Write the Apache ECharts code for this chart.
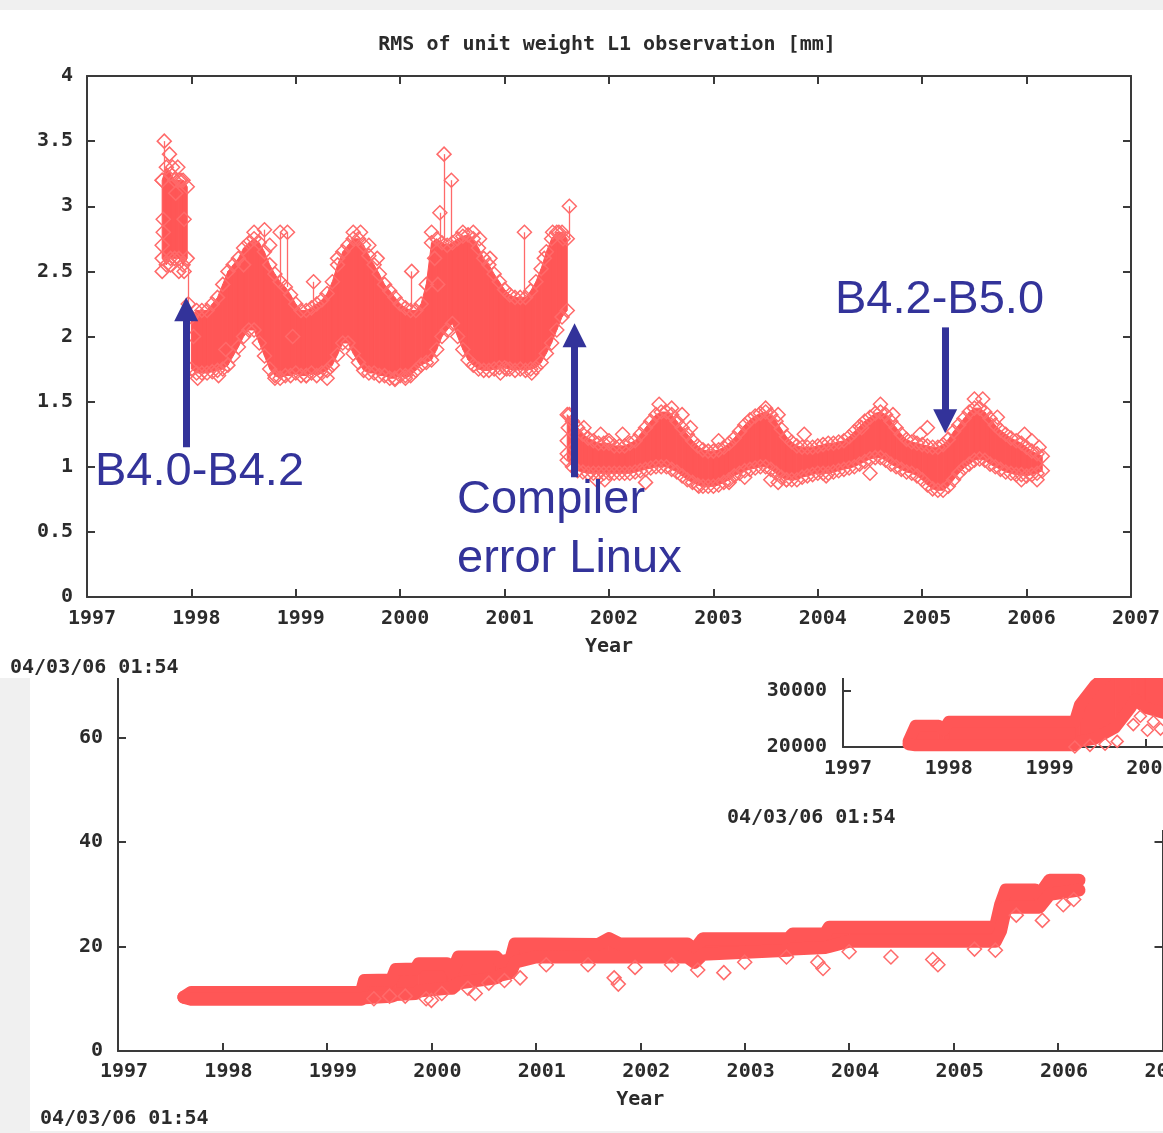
<!DOCTYPE html>
<html><head><meta charset="utf-8">
<script src="https://cdn.jsdelivr.net/npm/echarts@6/dist/echarts.min.js"></script>
<style>
html,body{margin:0;padding:0;background:#f0f0f0;width:1163px;height:1133px;overflow:hidden;}
.box{position:absolute;overflow:hidden;background:#ffffff;}
.inner{position:absolute;}
</style></head><body>
<div class="box" style="left:30px;top:678px;width:1133px;height:453px;z-index:1"><div class="inner" id="cBottom" style="left:0;top:-100px;width:1250px;height:555px"></div></div>
<div class="box" style="left:717px;top:678px;width:446px;height:152px;z-index:2"><div class="inner" id="cInset" style="left:0;top:-100px;width:700px;height:300px"></div></div>
<div class="box" style="left:0;top:10px;width:1163px;height:668px;z-index:3"><div class="inner" id="cTop" style="left:0;top:0;width:1163px;height:668px"></div></div>
<script>
// ---------------- DATA ----------------
// Top chart: RMS of unit weight L1 observation [mm]
const yearTicks = [1997,1998,1999,2000,2001,2002,2003,2004,2005,2006,2007];
const rmsTicks = [0,0.5,1,1.5,2,2.5,3,3.5,4];

const rmsT1 = [1997.72,1997.76,1997.80,1997.84,1997.88,1997.92,1997.96];
const rmsHi1 = [3.20,3.30,3.25,3.20,3.20,3.20,3.15];
const rmsLo1 = [2.60,2.55,2.60,2.60,2.60,2.55,2.60];

const rmsT2 = [1998.00,1998.05,1998.10,1998.15,1998.20,1998.25,1998.30,1998.35,1998.40,1998.45,1998.50,1998.55,1998.60,1998.65,1998.70,1998.75,1998.80,1998.85,1998.90,1998.95,
 1999.00,1999.05,1999.10,1999.15,1999.20,1999.25,1999.30,1999.35,1999.40,1999.45,1999.50,1999.55,1999.60,1999.65,1999.70,1999.75,1999.80,1999.85,1999.90,1999.95,
 2000.00,2000.05,2000.10,2000.15,2000.20,2000.25,2000.30,2000.35,2000.40,2000.45,2000.50,2000.55,2000.60,2000.65,2000.70,2000.75,2000.80,2000.85,2000.90,2000.95,
 2001.00,2001.05,2001.10,2001.15,2001.20,2001.25,2001.30,2001.35,2001.40,2001.45,2001.50,2001.55,2001.60];
const rmsHi2 = [2.15,2.20,2.20,2.20,2.25,2.30,2.40,2.50,2.55,2.60,2.68,2.72,2.75,2.72,2.65,2.55,2.48,2.42,2.38,2.32,
 2.25,2.20,2.20,2.22,2.25,2.28,2.33,2.42,2.55,2.65,2.70,2.75,2.75,2.70,2.62,2.55,2.48,2.40,2.35,2.30,
 2.25,2.22,2.20,2.20,2.25,2.40,2.72,2.75,2.72,2.70,2.72,2.75,2.77,2.78,2.75,2.68,2.60,2.55,2.48,2.42,
 2.36,2.32,2.30,2.30,2.30,2.35,2.42,2.52,2.65,2.75,2.80,2.80,2.75];
const rmsLo2 = [1.75,1.72,1.72,1.72,1.73,1.74,1.75,1.78,1.85,1.92,2.00,2.05,2.05,1.95,1.85,1.75,1.70,1.68,1.70,1.70,
 1.72,1.70,1.70,1.72,1.70,1.72,1.74,1.78,1.86,1.95,1.95,1.87,1.80,1.74,1.72,1.72,1.70,1.70,1.68,1.68,
 1.70,1.68,1.70,1.74,1.78,1.80,1.82,1.90,2.00,2.05,2.10,2.00,1.90,1.82,1.78,1.75,1.74,1.74,1.75,1.76,
 1.76,1.75,1.74,1.75,1.74,1.75,1.76,1.80,1.87,1.95,2.05,2.15,2.20];

const rmsT3 = [2001.60,2001.65,2001.70,2001.75,2001.80,2001.85,2001.90,2001.95,
 2002.00,2002.05,2002.10,2002.15,2002.20,2002.25,2002.30,2002.35,2002.40,2002.45,2002.50,2002.55,2002.60,2002.65,2002.70,2002.75,2002.80,2002.85,2002.90,2002.95,
 2003.00,2003.05,2003.10,2003.15,2003.20,2003.25,2003.30,2003.35,2003.40,2003.45,2003.50,2003.55,2003.60,2003.65,2003.70,2003.75,2003.80,2003.85,2003.90,2003.95,
 2004.00,2004.05,2004.10,2004.15,2004.20,2004.25,2004.30,2004.35,2004.40,2004.45,2004.50,2004.55,2004.60,2004.65,2004.70,2004.75,2004.80,2004.85,2004.90,2004.95,
 2005.00,2005.05,2005.10,2005.15,2005.20,2005.25,2005.30,2005.35,2005.40,2005.45,2005.50,2005.55,2005.60,2005.65,2005.70,2005.75,2005.80,2005.85,2005.90,2005.95,
 2006.00,2006.05,2006.10,2006.15];
const rmsHi3 = [1.40,1.35,1.30,1.25,1.22,1.20,1.18,1.18,
 1.18,1.16,1.16,1.16,1.18,1.20,1.25,1.30,1.35,1.40,1.42,1.42,1.40,1.35,1.30,1.25,1.20,1.16,1.13,1.12,
 1.12,1.13,1.15,1.18,1.22,1.27,1.32,1.36,1.39,1.41,1.42,1.40,1.35,1.29,1.23,1.19,1.16,1.15,1.15,1.15,
 1.16,1.17,1.18,1.18,1.19,1.20,1.23,1.27,1.31,1.35,1.38,1.41,1.42,1.40,1.35,1.30,1.25,1.21,1.19,1.18,
 1.17,1.16,1.15,1.15,1.17,1.21,1.27,1.32,1.37,1.42,1.45,1.45,1.42,1.37,1.32,1.28,1.25,1.22,1.20,1.18,
 1.15,1.12,1.10,1.08];
const rmsLo3 = [1.05,1.00,0.97,0.96,0.95,0.95,0.95,0.95,
 0.95,0.95,0.95,0.95,0.95,0.96,0.97,0.98,0.99,1.00,1.00,1.00,0.98,0.96,0.93,0.90,0.88,0.86,0.85,0.85,
 0.85,0.86,0.88,0.90,0.93,0.95,0.97,0.98,0.99,1.00,1.00,0.98,0.95,0.92,0.90,0.90,0.90,0.92,0.93,0.94,
 0.95,0.95,0.95,0.96,0.97,0.98,0.99,1.00,1.02,1.04,1.06,1.07,1.07,1.05,1.02,1.00,0.98,0.96,0.95,0.93,
 0.90,0.86,0.83,0.82,0.82,0.85,0.90,0.95,0.99,1.02,1.05,1.06,1.05,1.02,1.00,0.98,0.96,0.95,0.94,0.94,
 0.93,0.94,0.95,0.97];

const rmsExtraT = [1997.72,1997.73,1997.73,1997.72,1997.79,1997.82,1997.85,1997.87,1997.90,1997.93,1997.72,1997.80,1997.88,1997.93,
 1998.02,1998.06,1998.26,1998.33,1998.50,1998.60,1998.75,1998.80,1998.97,1999.10,1999.30,1999.40,1999.55,1999.62,1999.70,1999.78,1999.95,2000.05,2000.30,2000.33,2000.36,2000.60,2000.70,2000.76,2000.86,2000.96,2001.02,2001.26,2001.38,2001.46,2001.52,2001.56,
 2001.60,2001.60,2001.61,2001.62,
 2001.76,2001.92,2002.00,2002.13,2002.48,2002.60,2002.70,2002.78,2003.05,2003.50,2003.62,2003.87,2004.42,2004.60,2004.72,2004.98,2005.05,2005.50,2005.58,2005.72,2005.98,2006.05,2006.12,
 2001.88,2001.96,2002.35,2002.86,2003.15,2003.30,2003.55,2003.62,2003.70,2004.08,2004.50,2005.95,2006.10];
const rmsExtraV = [2.7,2.8,2.9,3.2,3.4,3.3,3.1,3.3,3.2,2.9,2.5,2.55,2.5,2.5,
 2.0,1.68,1.7,1.9,2.55,2.8,2.7,1.68,2.0,1.7,1.68,2.6,2.8,2.8,2.7,2.6,1.67,1.7,2.8,2.6,2.4,2.8,2.8,2.75,2.6,1.72,1.75,1.72,2.6,2.8,2.8,2.75,
 1.1,1.2,1.3,1.4,
 1.3,1.25,1.2,1.25,1.48,1.45,1.4,1.3,1.2,1.45,1.4,1.25,1.3,1.48,1.4,1.25,1.3,1.52,1.52,1.38,1.25,1.2,1.15,
 0.9,0.9,0.88,0.85,0.88,0.92,0.9,0.88,0.9,0.93,0.95,0.9,0.9];

const rmsSpikeT = [1997.74,1997.97,1998.70,1998.85,1998.92,1999.17,2000.11,2000.38,2000.42,2000.49,2001.19,2001.62];
const rmsSpikeBase = [3.25,2.55,2.70,2.42,2.38,2.22,2.20,2.72,2.72,2.72,2.30,2.75];
const rmsSpikePeak = [3.50,2.25,2.82,2.80,2.80,2.42,2.50,2.95,3.40,3.20,2.80,3.00];

// annotations (arrows in data coordinates)
const arrowX = [1997.95, 2001.67, 2005.22];
const arrowFrom = [1.15, 0.92, 2.07];
const arrowTo = [2.21, 2.01, 1.35];

// Bottom chart
const countTicksY = [0,20,40,60,80];
const countT = [1997.63,1997.70,1998.00,1998.50,1999.00,1999.33,1999.36,1999.62,1999.66,1999.85,1999.88,2000.15,2000.20,2000.26,2000.62,2000.66,2000.76,2000.80,2001.00,2001.60,2001.70,2001.80,2002.45,2002.52,2002.60,2003.42,2003.46,2003.77,2003.81,2004.00,2005.40,2005.45,2005.50,2005.78,2005.82,2005.92,2006.20];
const countHi = [10.3,11.2,11.2,11.2,11.2,11.2,13.5,13.6,15.6,15.7,16.7,16.7,15.0,18.0,18.0,17.0,17.5,20.5,20.5,20.4,21.5,20.5,20.5,19.4,21.5,21.5,22.4,22.4,23.7,23.7,23.7,28.0,30.8,30.8,29.8,32.7,32.7];
const countLo = [10.3,9.9,9.9,9.9,9.9,9.9,10.2,10.5,10.8,11.0,11.5,12.0,12.0,13.0,14.0,14.5,15.0,17.0,18.0,18.0,18.0,18.0,18.0,17.0,18.5,19.3,19.5,19.8,20.0,21.0,21.0,23.0,27.5,27.5,27.5,30.0,30.8];
const countOutT = [1999.45,1999.60,1999.75,1999.95,2000.00,2000.10,2000.35,2000.42,2000.55,2000.70,2000.85,2001.10,2001.50,2001.75,2001.79,2001.95,2002.30,2002.55,2002.80,2003.00,2003.40,2003.70,2003.75,2004.00,2004.40,2004.80,2004.85,2005.20,2005.40,2005.60,2005.85,2006.05,2006.15];
const countOutV = [10.0,10.5,10.5,10.0,9.7,11.0,12.0,11.0,13.0,13.5,14.0,16.5,16.5,14.0,12.8,16.0,16.5,15.5,15.0,17.0,18.0,17.0,15.8,19.0,18.0,17.5,16.5,19.5,19.3,26.0,25.0,28.0,29.0];

// Inset chart (partially visible)
const insetTicksX = [1997,1998,1999,2000,2001];
const insetTicksY = [20000,30000,40000];
const insetT = [1997.65,1997.72,1997.95,1998.00,1998.05,1999.30,1999.35,1999.50,1999.70,1999.85,1999.90,2000.00,2000.20];
const insetHi = [21000,23800,23800,23000,24500,24500,27500,31000,34000,34000,34000,34000,34000];
const insetLo = [20500,20300,20300,20300,20300,20300,21000,21500,23500,27000,28500,27000,26000];
const insetOutT = [1999.30,1999.45,1999.60,1999.72,1999.88,1999.95,2000.02,2000.08,2000.15];
const insetOutV = [20000,20300,20500,21000,24000,25500,23000,24500,23200];

const titleText = 'RMS of unit weight L1 observation [mm]';
const stampText = '04/03/06 01:54';
const annoTexts = ['B4.0-B4.2', 'Compiler', 'error Linux', 'B4.2-B5.0'];

// ---------------- STYLE ----------------
const MONO = '"DejaVu Sans Mono", "Liberation Mono", monospace';
const MONO_FONT = 'bold 20px ' + MONO;
const TXT = '#2b2b2b';
const RED = '#ff5656';
const RED_LINE = '#ff6a6a';
const AXIS = '#3a3a3a';
const NAVY = '#33339a';
const ANNO_FONT = '47px "Liberation Sans", Arial, sans-serif';

function lab(extra){ return Object.assign({fontFamily:MONO,fontSize:20,fontWeight:'bold',color:TXT}, extra); }
function xAx(ticks,pos,showLabel,margin,shift,name,gap){
  return {type:'value',position:pos,min:ticks[0],max:ticks[ticks.length-1],interval:ticks[1]-ticks[0],
    axisLine:{show:true,onZero:false,lineStyle:{color:AXIS,width:2}},
    axisTick:{show:true,inside:true,length:8,lineStyle:{color:AXIS,width:2}},
    splitLine:{show:false},
    axisLabel:lab({show:showLabel,margin:margin||10,padding:[0,0,0,shift||0],showMinLabel:true,showMaxLabel:true,formatter:v=>String(Math.round(v))}),
    name:name||'',nameLocation:'middle',nameGap:gap||0,nameTextStyle:lab({})};
}
function yAx(ticks,pos,showLabel,margin){
  return {type:'value',position:pos,min:ticks[0],max:ticks[ticks.length-1],interval:ticks[1]-ticks[0],
    axisLine:{show:true,onZero:false,lineStyle:{color:AXIS,width:2}},
    axisTick:{show:true,inside:true,length:8,lineStyle:{color:AXIS,width:2}},
    splitLine:{show:false},
    axisLabel:lab({show:showLabel,margin:margin||10,showMinLabel:true,showMaxLabel:true,formatter:v=>String(v)})};
}
// band fill between lo and hi, drawn as polygons through the axis scales
function band(t,lo,hi,edge){
  const out = [{type:'custom',silent:true,z:2,clip:true,
    data:t.map((x,i)=>[x,lo[i],hi[i]]),
    encode:{x:0,y:[1,2]},
    renderItem:function(params,api){
      const i=params.dataIndex;
      if(i>=t.length-1) return null;
      const p=[api.coord([t[i],lo[i]]),api.coord([t[i],hi[i]]),api.coord([t[i+1],hi[i+1]]),api.coord([t[i+1],lo[i+1]])];
      return {type:'polygon',shape:{points:p},style:{fill:RED,stroke:RED,lineWidth:1}};
    }}];
  if(edge){
    out.push({type:'line',data:t.map((x,i)=>[x,hi[i]]),symbol:'none',showSymbol:false,silent:true,z:3,
      lineStyle:{width:edge,color:RED,join:'round',cap:'round'}});
    out.push({type:'line',data:t.map((x,i)=>[x,lo[i]]),symbol:'none',showSymbol:false,silent:true,z:3,
      lineStyle:{width:edge,color:RED,join:'round',cap:'round'}});
  }
  return out;
}
function hollow(data,size){
  return {type:'scatter',data:data,symbol:'diamond',symbolSize:size,silent:true,z:4,
    itemStyle:{color:'rgba(255,255,255,0)',borderColor:RED_LINE,borderWidth:1.5,opacity:1}};
}
function pts(t,v){ return t.map((x,i)=>[x,v[i]]); }
function gtext(x,y,text,font,fill,align){
  return {type:'text',x:x,y:y,z:20,silent:true,style:{text:text,font:font,fill:fill,
    textAlign:align||'left',align:align||'left',textVerticalAlign:'middle',verticalAlign:'middle'}};
}

// ---------------- TOP CHART ----------------
const chartTop = echarts.init(document.getElementById('cTop'),null,{renderer:'canvas'});
const edgePts = [].concat(pts(rmsT1,rmsHi1),pts(rmsT1,rmsLo1),pts(rmsT2,rmsHi2),pts(rmsT2,rmsLo2),pts(rmsT3,rmsHi3),pts(rmsT3,rmsLo3));
const spikeSeries = hollow(pts(rmsSpikeT,rmsSpikePeak),14);
spikeSeries.markLine = {silent:true,symbol:['none','none'],animation:false,label:{show:false},
  lineStyle:{color:RED_LINE,width:1.3,type:'solid'},emphasis:{disabled:true},
  data:rmsSpikeT.map((x,i)=>[{coord:[x,rmsSpikeBase[i]]},{coord:[x,rmsSpikePeak[i]]}])};
const arrowSeries = {type:'scatter',data:[],z:10,silent:true,
  markLine:{silent:true,symbol:['none','triangle'],symbolSize:24,animation:false,label:{show:false},
    lineStyle:{color:NAVY,width:7,type:'solid',opacity:1},itemStyle:{color:NAVY},emphasis:{disabled:true},
    data:arrowX.map((x,i)=>[{coord:[x,arrowFrom[i]]},{coord:[x,arrowTo[i]]}])}};
chartTop.setOption({
  animation:false,
  grid:{left:87,top:66,width:1044,height:521,outerBoundsMode:'none'},
  xAxis:[xAx(yearTicks,'bottom',true,12,10,'Year',40), xAx(yearTicks,'top',false)],
  yAxis:[yAx(rmsTicks,'left',true,14), yAx(rmsTicks,'right',false)],
  series:[].concat(
    band(rmsT1,rmsLo1,rmsHi1,0),
    band(rmsT2,rmsLo2,rmsHi2,0),
    band(rmsT3,rmsLo3,rmsHi3,0),
    [hollow(edgePts,14), hollow(pts(rmsExtraT,rmsExtraV),14), spikeSeries, arrowSeries]
  ),
  graphic:[
    gtext(607,35,titleText,MONO_FONT,TXT,'center'),
    gtext(10,658,stampText,MONO_FONT,TXT,'left'),
    gtext(95,462,annoTexts[0],ANNO_FONT,NAVY,'left'),
    gtext(457,490,annoTexts[1],ANNO_FONT,NAVY,'left'),
    gtext(457,549,annoTexts[2],ANNO_FONT,NAVY,'left'),
    gtext(835,290,annoTexts[3],ANNO_FONT,NAVY,'left')
  ]
});

// ---------------- BOTTOM CHART ----------------
const chartBottom = echarts.init(document.getElementById('cBottom'),null,{renderer:'canvas'});
chartBottom.setOption({
  animation:false,
  grid:{left:88,top:55,width:1044.5,height:418,outerBoundsMode:'none'},
  xAxis:[xAx(yearTicks,'bottom',true,11,12,'Year',39), xAx(yearTicks,'top',false)],
  yAxis:[yAx(countTicksY,'left',true,15), yAx(countTicksY,'right',false)],
  series:[].concat(
    band(countT,countLo,countHi,13),
    [hollow(pts(countOutT,countOutV),14)]
  ),
  graphic:[gtext(10,541,stampText,MONO_FONT,TXT,'left')]
});

// ---------------- INSET CHART ----------------
const chartInset = echarts.init(document.getElementById('cInset'),null,{renderer:'canvas'});
chartInset.setOption({
  animation:false,
  grid:{left:126,top:57,width:403.2,height:112,outerBoundsMode:'none'},
  xAxis:[xAx(insetTicksX,'bottom',true,12,10)],
  yAxis:[yAx(insetTicksY,'left',true,16)],
  series:[].concat(
    band(insetT,insetLo,insetHi,12),
    [hollow(pts(insetOutT,insetOutV),12)]
  ),
  graphic:[gtext(10,240,stampText,MONO_FONT,TXT,'left')]
});
</script>
</body></html>
